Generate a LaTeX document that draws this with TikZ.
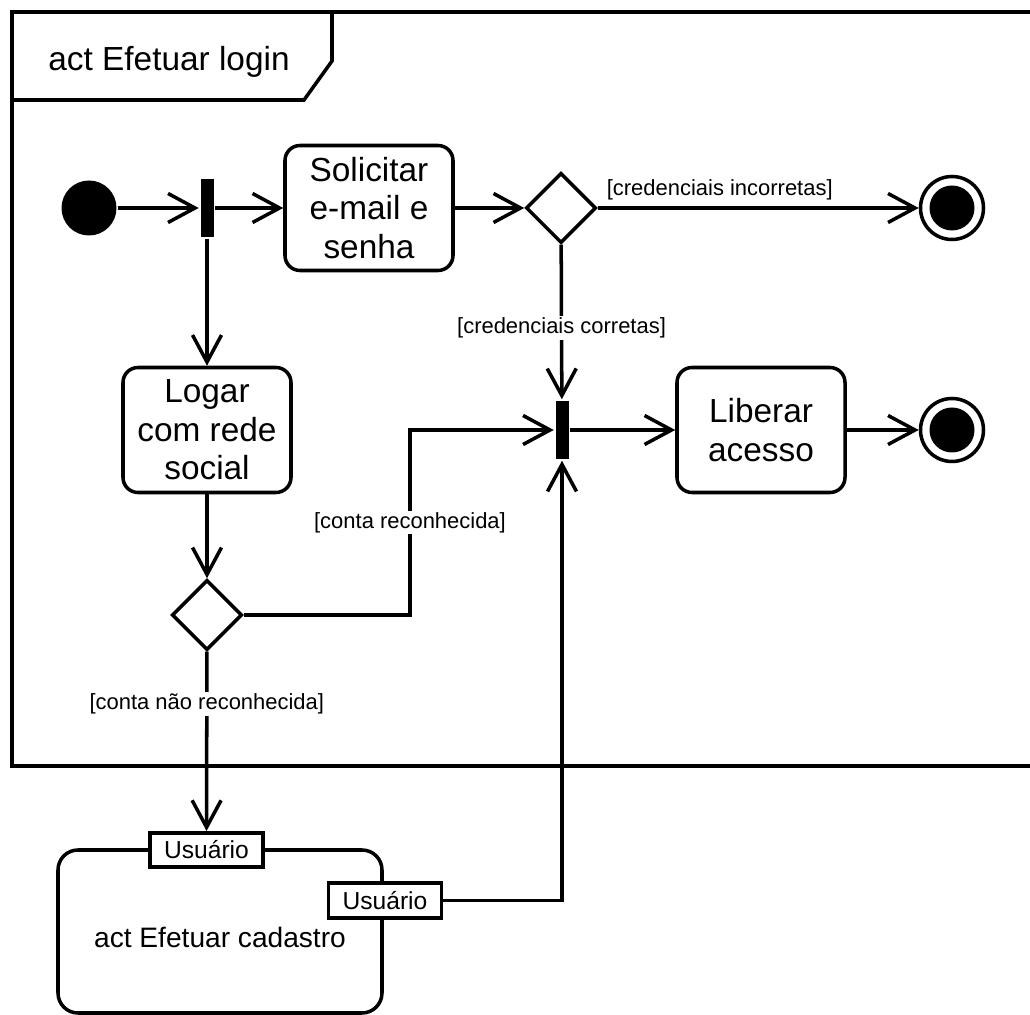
\documentclass[tikz,border=0pt]{standalone}
\usepackage{fontspec}
\setmainfont{Liberation Sans}
\usetikzlibrary{arrows.meta, shapes.geometric}

\begin{document}
\begin{tikzpicture}[x=0.2mm, y=-0.2mm, line width=2pt,
  action/.style={draw, rounded corners=3mm, minimum width=33.6mm, minimum height=25mm,
    align=center, inner sep=0pt, font=\fontsize{19}{22}\selectfont},
  decision/.style={draw, diamond, minimum width=14mm, minimum height=14mm, inner sep=0pt},
  syncbar/.style={fill=black, minimum width=2.6mm, minimum height=11.6mm, inner sep=0pt},
  startnode/.style={circle, fill=black, minimum size=11mm, inner sep=0pt},
  endnode/.style={circle, draw, minimum size=12.6mm, inner sep=0pt,
    path picture={\fill (path picture bounding box.center) circle (4.5mm);}},
  pinbox/.style={draw, fill=white, minimum width=22.6mm, minimum height=6.9mm, inner sep=0pt,
    font=\fontsize{14}{16}\selectfont},
  guard/.style={fill=white, inner sep=1pt, font=\fontsize{12.5}{15}\selectfont},
  flow/.style={-{Straight Barb[length=5.4mm, width=5.8mm]}}]
  \useasboundingbox (0,0) rectangle (1030,1015);

  % frame of the activity
  \draw (1030,12) -- (12,12) -- (12,766) -- (1030,766);
  \draw (332,12) -- (332,61) -- (304,100) -- (12,100);
  \node[font=\fontsize{19}{22}\selectfont] (frametitle) at (169,62) {act Efetuar login};

  % nodes
  \node[startnode] (start) at (89,208) {};
  \node[syncbar] (fork) at (207,208) {};
  \node[action] (solicitar) at (369,208) {Solicitar\\e-mail e\\senha};
  \node[decision] (dec1) at (561,208) {};
  \node[endnode] (fim1) at (952,208) {};
  \node[action] (logar) at (207,430) {Logar\\com rede\\social};
  \node[syncbar] (join) at (562,430) {};
  \node[action] (liberar) at (761,430) {Liberar\\acesso};
  \node[endnode] (fim2) at (952,430) {};
  \node[decision] (dec2) at (207,615) {};
  \coordinate (corner) at (410,615);

  % called activity with its pins
  \node[draw, rounded corners=4mm, minimum width=64.8mm, minimum height=32.6mm,
    text height=6.5mm, text depth=0pt, font=\fontsize{16}{19}\selectfont] (cadastro) at (220,931.5) {act Efetuar cadastro};
  \node[pinbox] (pinin) at (206.5,850) {Usuário};
  \node[pinbox] (pinout) at (385,900.5) {Usuário};

  % flows
  \draw[flow] (start) -- (fork);
  \draw[flow] (fork) -- (solicitar);
  \draw[flow] (solicitar) -- (dec1);
  \draw[flow] (dec1) -- node[guard, above, pos=0.38, fill=none, outer sep=1.2mm] {[credenciais incorretas]} (fim1);
  \draw[flow] (dec1) -- node[guard, pos=0.54] {[credenciais corretas]} (join);
  \draw[flow] (join) -- (liberar);
  \draw[flow] (liberar) -- (fim2);
  \draw[flow] (fork) -- (logar);
  \draw[flow] (logar) -- (dec2);
  \draw[flow] (dec2) -- (corner) |- node[guard, pos=0.25] {[conta reconhecida]} (join);
  \draw[flow] (dec2) -- node[guard, pos=0.29] {[conta não reconhecida]} (pinin);
  \draw[flow] (pinout) -| (join);
\end{tikzpicture}
\end{document}
